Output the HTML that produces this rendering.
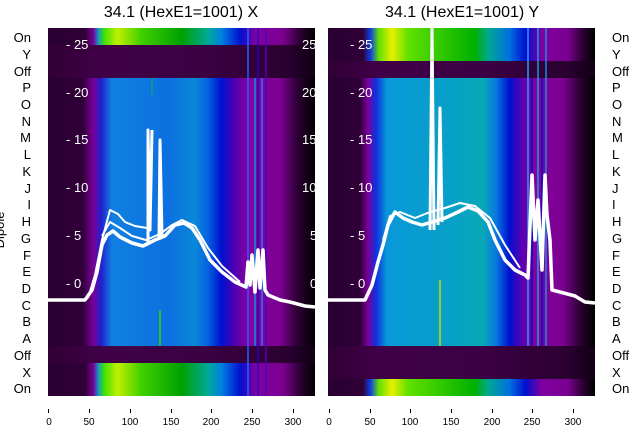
<!DOCTYPE html>
<html><head><meta charset="utf-8"><style>
html,body{margin:0;padding:0;background:#fff;}
svg{display:block;font-family:"Liberation Sans","DejaVu Sans",sans-serif;}
</style></head><body>
<svg width="640" height="440" viewBox="0 0 640 440" xmlns="http://www.w3.org/2000/svg">
<defs>
<linearGradient id="sigL" x1="0" x2="1">
<stop offset="0" stop-color="#280030"/><stop offset="0.13" stop-color="#300038"/>
<stop offset="0.17" stop-color="#7a009a"/><stop offset="0.2" stop-color="#2020d0"/>
<stop offset="0.24" stop-color="#1080e0"/><stop offset="0.45" stop-color="#0c70e0"/>
<stop offset="0.55" stop-color="#0a88d8"/><stop offset="0.6" stop-color="#0660e0"/>
<stop offset="0.65" stop-color="#0010d0"/><stop offset="0.7" stop-color="#5000b0"/>
<stop offset="0.75" stop-color="#8800a0"/><stop offset="0.87" stop-color="#7a0090"/>
<stop offset="0.93" stop-color="#300038"/><stop offset="1" stop-color="#000000"/>
</linearGradient>
<linearGradient id="sigR" x1="0" x2="1">
<stop offset="0" stop-color="#280030"/><stop offset="0.12" stop-color="#300038"/>
<stop offset="0.15" stop-color="#7a009a"/><stop offset="0.18" stop-color="#1030e0"/>
<stop offset="0.22" stop-color="#0898d8"/><stop offset="0.45" stop-color="#08a0c8"/>
<stop offset="0.58" stop-color="#08a8b8"/><stop offset="0.63" stop-color="#0878e0"/>
<stop offset="0.68" stop-color="#0010d0"/><stop offset="0.73" stop-color="#6000b0"/>
<stop offset="0.78" stop-color="#8800a0"/><stop offset="0.88" stop-color="#7a0090"/>
<stop offset="0.94" stop-color="#300038"/><stop offset="1" stop-color="#000000"/>
</linearGradient>
<linearGradient id="onL" x1="0" x2="1">
<stop offset="0" stop-color="#280030"/><stop offset="0.14" stop-color="#300038"/>
<stop offset="0.17" stop-color="#7a009a"/><stop offset="0.19" stop-color="#10a0c0"/>
<stop offset="0.21" stop-color="#40e000"/><stop offset="0.26" stop-color="#c0f000"/>
<stop offset="0.35" stop-color="#40d000"/><stop offset="0.5" stop-color="#00a000"/>
<stop offset="0.6" stop-color="#00a898"/><stop offset="0.65" stop-color="#0080e0"/>
<stop offset="0.72" stop-color="#0010d0"/><stop offset="0.78" stop-color="#8000a0"/>
<stop offset="0.88" stop-color="#7a0090"/><stop offset="0.94" stop-color="#300038"/>
<stop offset="1" stop-color="#000000"/>
</linearGradient>
<linearGradient id="onR" x1="0" x2="1">
<stop offset="0" stop-color="#280030"/><stop offset="0.13" stop-color="#300038"/>
<stop offset="0.16" stop-color="#1040e0"/><stop offset="0.19" stop-color="#60e000"/>
<stop offset="0.24" stop-color="#e8f000"/><stop offset="0.3" stop-color="#60e000"/>
<stop offset="0.55" stop-color="#00b000"/><stop offset="0.6" stop-color="#00a890"/>
<stop offset="0.68" stop-color="#0070e0"/><stop offset="0.74" stop-color="#0010d0"/>
<stop offset="0.8" stop-color="#8000a0"/><stop offset="0.9" stop-color="#7a0090"/>
<stop offset="0.95" stop-color="#300038"/><stop offset="1" stop-color="#000000"/>
</linearGradient>
<linearGradient id="off" x1="0" x2="1">
<stop offset="0" stop-color="#300034"/><stop offset="0.2" stop-color="#400048"/>
<stop offset="0.6" stop-color="#3a0042"/><stop offset="0.9" stop-color="#2a0030"/>
<stop offset="1" stop-color="#100014"/>
</linearGradient>
</defs>

<!-- Titles -->
<text x="181" y="17" font-size="16" text-anchor="middle" fill="#000">34.1 (HexE1=1001) X</text>
<text x="462" y="17" font-size="16" text-anchor="middle" fill="#000">34.1 (HexE1=1001) Y</text>

<!-- Left panel -->
<rect x="48" y="28" width="267" height="368" fill="url(#sigL)"/>
<rect x="48" y="28" width="267" height="17" fill="url(#onL)"/>
<rect x="48" y="45" width="267" height="33" fill="url(#off)"/>
<rect x="48" y="346" width="267" height="17" fill="url(#off)"/>
<rect x="48" y="363" width="267" height="33" fill="url(#onL)"/>
<g stroke-width="1.5">
<line x1="248" y1="28" x2="248" y2="396" stroke="#2060ff"/>
<line x1="255" y1="78" x2="255" y2="346" stroke="#1090e0"/>
<line x1="258" y1="28" x2="258" y2="396" stroke="#3000c0"/>
<line x1="262" y1="78" x2="262" y2="346" stroke="#1080ff"/>
<line x1="266" y1="28" x2="266" y2="396" stroke="#5000c0"/>
<line x1="160" y1="310" x2="160" y2="346" stroke="#40d000"/>
<line x1="152" y1="78" x2="152" y2="95" stroke="#10a080"/>
</g>
<!-- Right panel -->
<rect x="328" y="28" width="267" height="368" fill="url(#sigR)"/>
<rect x="328" y="28" width="267" height="33" fill="url(#onR)"/>
<rect x="328" y="61" width="267" height="17" fill="url(#off)"/>
<rect x="328" y="346" width="267" height="33" fill="url(#off)"/>
<rect x="328" y="379" width="267" height="17" fill="url(#onR)"/>
<g stroke-width="1.5">
<line x1="528" y1="28" x2="528" y2="346" stroke="#20a0ff"/>
<line x1="532" y1="78" x2="532" y2="346" stroke="#0010c0"/>
<line x1="538" y1="28" x2="538" y2="346" stroke="#10a0e0"/>
<line x1="542" y1="78" x2="542" y2="346" stroke="#0010c0"/>
<line x1="546" y1="28" x2="546" y2="346" stroke="#1090e0"/>
<line x1="440" y1="280" x2="440" y2="346" stroke="#c0e000"/>
</g>

<!-- Overlay tick labels (white) -->
<g fill="#fff" font-size="13">
<text x="66" y="49">- 25</text><text x="66" y="97">- 20</text><text x="66" y="144">- 15</text>
<text x="66" y="192">- 10</text><text x="66" y="240">- 5</text><text x="66" y="288">- 0</text>
<text x="302" y="49">25</text><text x="302" y="97">20</text><text x="302" y="144">15</text>
<text x="302" y="192">10</text><text x="310" y="240">5</text><text x="310" y="288">0</text>
<text x="350" y="49">- 25</text><text x="350" y="97">- 20</text><text x="350" y="144">- 15</text>
<text x="350" y="192">- 10</text><text x="350" y="240">- 5</text><text x="350" y="288">- 0</text>
</g>

<!-- Left curves -->
<g fill="none" stroke="#fff" stroke-linejoin="round">
<polyline stroke-width="2" points="88,298 95,275 102,240 110,210 118,214 125,222 135,226 147,228"/>
<polyline stroke-width="3.5" points="48,300 85,300 92,290 97,272 102,245 107,235 113,231 120,237 132,243 143,246 155,240 165,236 175,225 184,223 192,228 200,240 210,260 222,272 235,282 246,287 248,262 250,285 252,255 255,292 258,250 260,288 263,250 265,290 268,295 280,300 290,302 305,306 315,307"/>
<polyline stroke-width="2" points="102,236 110,222 120,228 132,236 146,240 160,234 172,225 182,220 195,226 208,248 222,266 240,282"/>
<polyline stroke-width="3" points="148,244 148,130 150,230 152,130"/>
<polyline stroke-width="3" points="159,240 160,140 162,236"/>
</g>
<!-- Right curves -->
<g fill="none" stroke="#fff" stroke-linejoin="round">
<polyline stroke-width="3.5" points="328,300 365,300 372,285 378,262 383,245 388,225 395,212 403,218 412,222 422,225 432,222 445,218 458,212 468,207 478,211 488,222 495,240 505,260 515,270 525,275 528,278 532,175 535,240 538,200 542,270 545,175 547,215 550,240 552,290 560,292 575,296 585,302 595,303"/>
<polyline stroke-width="2" points="383,240 390,216 400,212 415,218 430,212 445,208 460,203 475,206 490,218 505,245 520,268"/>
<polyline stroke-width="3" points="430,230 432,28 434,230"/>
<polyline stroke-width="3" points="438,225 440,108 442,222"/>
</g>

<!-- Row labels -->
<g font-size="13" fill="#000">
<g text-anchor="end">
<text x="31" y="42">On</text><text x="31" y="59">Y</text><text x="31" y="76">Off</text>
<text x="31" y="92">P</text><text x="31" y="109">O</text><text x="31" y="126">N</text>
<text x="31" y="142">M</text><text x="31" y="159">L</text><text x="31" y="176">K</text>
<text x="31" y="193">J</text><text x="31" y="209">I</text><text x="31" y="226">H</text>
<text x="31" y="243">G</text><text x="31" y="260">F</text><text x="31" y="276">E</text>
<text x="31" y="293">D</text><text x="31" y="310">C</text><text x="31" y="326">B</text>
<text x="31" y="343">A</text><text x="31" y="360">Off</text><text x="31" y="377">X</text>
<text x="31" y="393">On</text>
</g>
<g text-anchor="start">
<text x="612" y="42">On</text><text x="612" y="59">Y</text><text x="612" y="76">Off</text>
<text x="612" y="92">P</text><text x="612" y="109">O</text><text x="612" y="126">N</text>
<text x="612" y="142">M</text><text x="612" y="159">L</text><text x="612" y="176">K</text>
<text x="612" y="193">J</text><text x="612" y="209">I</text><text x="612" y="226">H</text>
<text x="612" y="243">G</text><text x="612" y="260">F</text><text x="612" y="276">E</text>
<text x="612" y="293">D</text><text x="612" y="310">C</text><text x="612" y="326">B</text>
<text x="612" y="343">A</text><text x="612" y="360">Off</text><text x="612" y="377">X</text>
<text x="612" y="393">On</text>
</g>
<text transform="translate(4,230) rotate(-90)" text-anchor="middle" font-size="13">Dipole</text>
</g>

<!-- X axis ticks -->
<g stroke="#000" stroke-width="1">
<line x1="48.5" y1="409" x2="48.5" y2="413"/><line x1="89.5" y1="409" x2="89.5" y2="413"/>
<line x1="130.5" y1="409" x2="130.5" y2="413"/><line x1="171.5" y1="409" x2="171.5" y2="413"/>
<line x1="211.5" y1="409" x2="211.5" y2="413"/><line x1="252.5" y1="409" x2="252.5" y2="413"/>
<line x1="293.5" y1="409" x2="293.5" y2="413"/>
<line x1="329.5" y1="409" x2="329.5" y2="413"/><line x1="370.5" y1="409" x2="370.5" y2="413"/>
<line x1="410.5" y1="409" x2="410.5" y2="413"/><line x1="451.5" y1="409" x2="451.5" y2="413"/>
<line x1="492.5" y1="409" x2="492.5" y2="413"/><line x1="532.5" y1="409" x2="532.5" y2="413"/>
<line x1="573.5" y1="409" x2="573.5" y2="413"/>
</g>
<g font-size="10" fill="#000" text-anchor="middle">
<text x="49" y="425">0</text><text x="89" y="425">50</text><text x="130" y="425">100</text>
<text x="171" y="425">150</text><text x="211" y="425">200</text><text x="252" y="425">250</text>
<text x="293" y="425">300</text>
<text x="329" y="425">0</text><text x="370" y="425">50</text><text x="410" y="425">100</text>
<text x="451" y="425">150</text><text x="492" y="425">200</text><text x="532" y="425">250</text>
<text x="573" y="425">300</text>
</g>
</svg>
</body></html>
